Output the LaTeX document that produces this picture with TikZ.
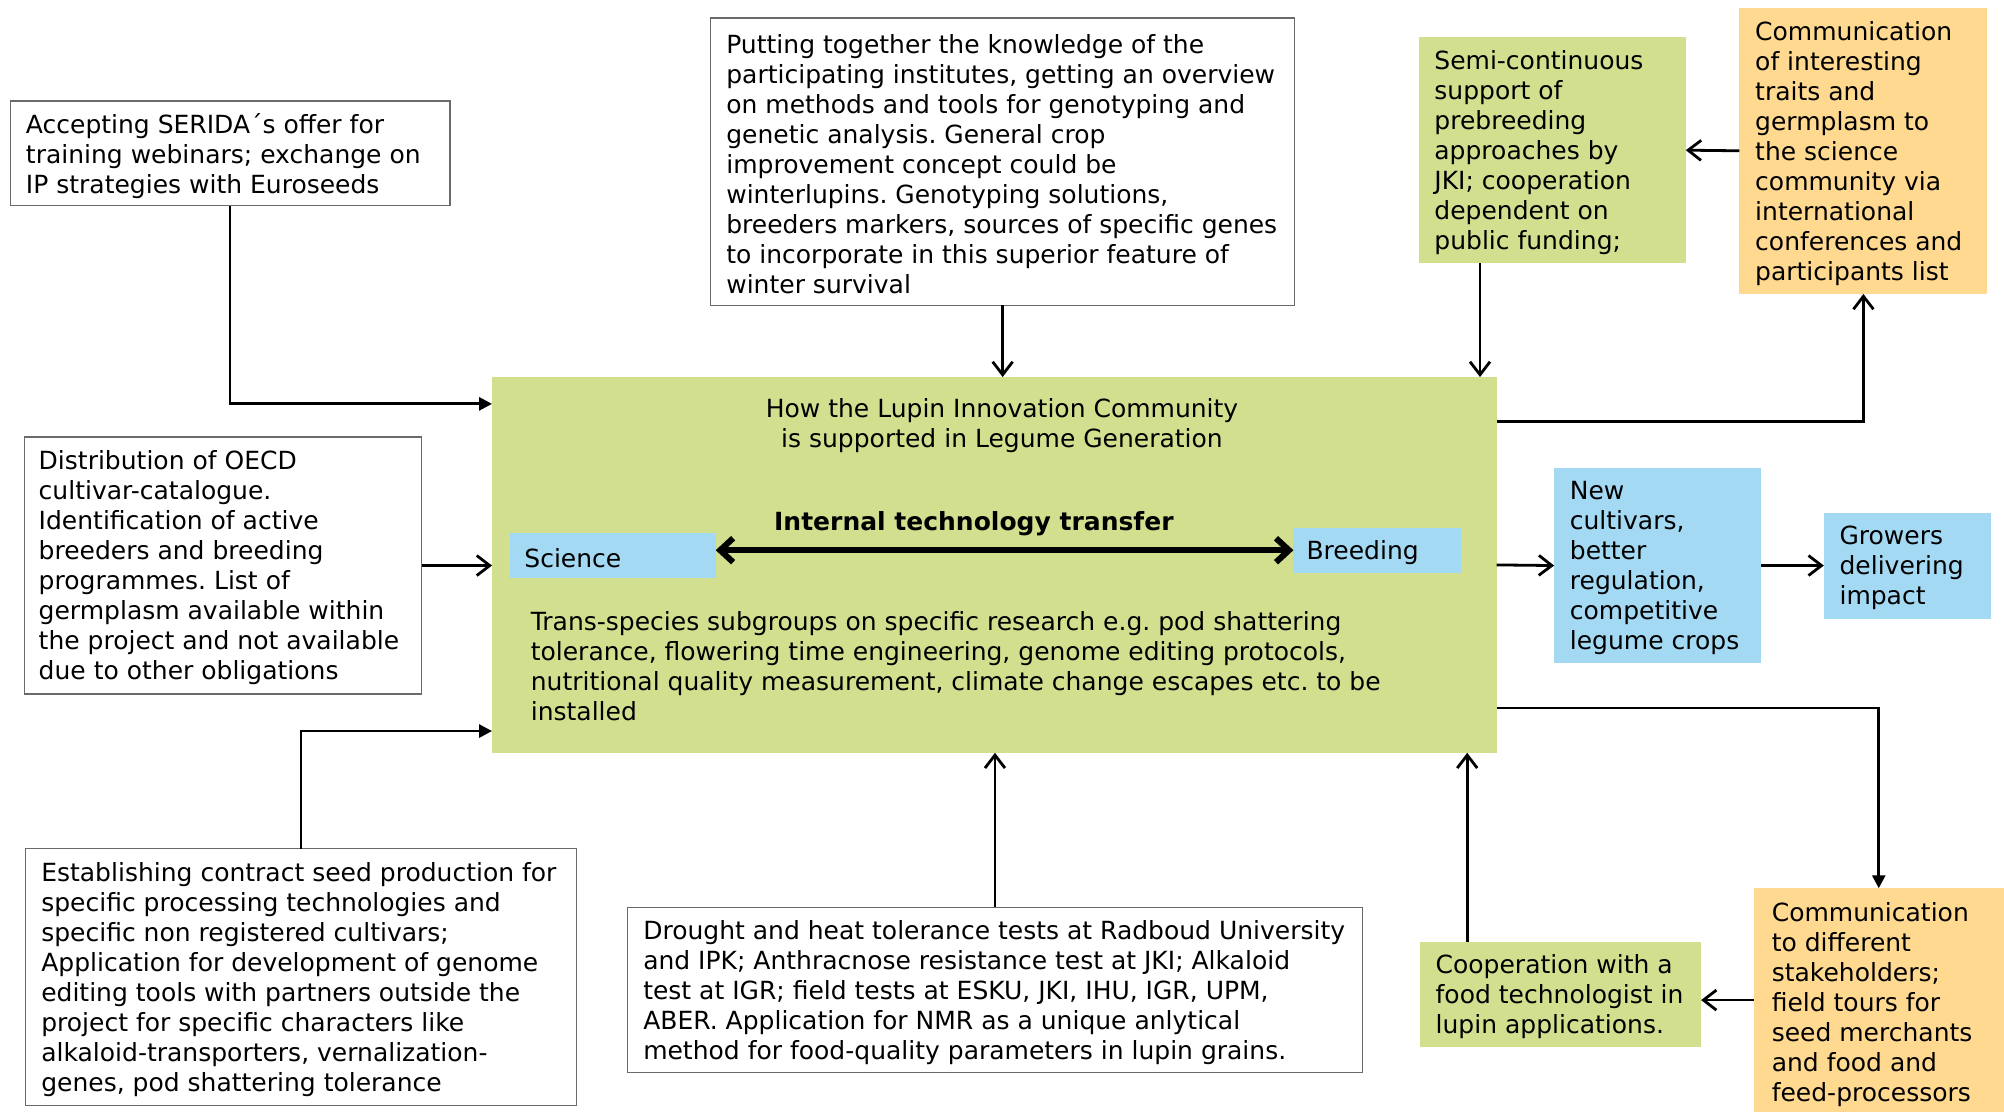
\documentclass[tikz,border=0pt]{standalone}
\usepackage{fontspec}
\setmainfont{DejaVu Sans}
\usetikzlibrary{arrows.meta,calc,fit}
\frenchspacing

\definecolor{lgreen}{HTML}{D1DF8F}
\definecolor{lblue}{HTML}{A4D9F4}
\definecolor{lorange}{HTML}{FFD98F}
\definecolor{framegray}{HTML}{6A6A6A}

\tikzset{
  shape box/.style={inner sep=0pt, outer sep=0pt, rectangle},
  whitebox/.style={shape box, draw=framegray, line width=0.7pt, fill=white},
  greenbox/.style={shape box, fill=lgreen},
  bluebox/.style={shape box, fill=lblue},
  orangebox/.style={shape box, fill=lorange},
  txt/.style={inner sep=0pt, align=left, anchor=west, yshift=-1.2pt,
              font=\fontsize{12.5}{15}\selectfont},
  conn/.style={line width=1.4pt, -{Straight Barb[length=6.5pt,width=10pt]}},
  fconn/.style={line width=1.4pt, -{Triangle[length=6.5pt,width=6.5pt]}},
  twoway/.style={line width=3pt,
     {Straight Barb[length=6.5pt,width=12pt]}-{Straight Barb[length=6.5pt,width=12pt]}},
}

\begin{document}
\begin{tikzpicture}[x=0.639pt,y=-0.639pt]
\path[use as bounding box, fill=white] (0,0) rectangle (1568,870);

% ---- central box --------------------------------------------------
\node[greenbox, fit={(385,295) (1171,589)}] (main) {};
\node[txt, anchor=center, align=center] (title) at (784,331)
  {How the Lupin Innovation Community\\is supported in Legume Generation};
\node[txt, anchor=center] (itt) at (762,408) {\bfseries Internal technology transfer};
\node[bluebox, fit={(399,417) (560,452)}] (science) {};
\node[txt] (science-t) at ($(science.west)+(11,0)$) {Science};
\node[bluebox, fit={(1012,413) (1143,448)}] (breeding) {};
\node[txt] (breeding-t) at ($(breeding.west)+(10,0)$) {Breeding};
\node[txt] (body) at (415,519)
  {Trans-species subgroups on specific research e.g. pod shattering\\
   tolerance, flowering time engineering, genome editing protocols,\\
   nutritional quality measurement, climate change escapes etc. to be\\
   installed};
\draw[twoway] (science.east |- breeding.west) -- (breeding.west);

% ---- surrounding boxes -------------------------------------------
\node[whitebox, fit={(8,79) (352,161)}] (serida) {};
\node[txt] (serida-t) at ($(serida.west)+(12,0)$)
  {Accepting SERIDA´s offer for\\training webinars; exchange on\\IP strategies with Euroseeds};

\node[whitebox, fit={(556,14) (1013,239)}] (putting) {};
\node[txt] (putting-t) at ($(putting.west)+(12,0)$)
  {Putting together the knowledge of the\\
   participating institutes, getting an overview\\
   on methods and tools for genotyping and\\
   genetic analysis. General crop\\
   improvement concept could be\\
   winterlupins. Genotyping solutions,\\
   breeders markers, sources of specific genes\\
   to incorporate in this superior feature of\\
   winter survival};

\node[greenbox, fit={(1110,29) (1319,206)}] (semi) {};
\node[txt] (semi-t) at ($(semi.west)+(12,0)$)
  {Semi-continuous\\support of\\prebreeding\\approaches by\\JKI; cooperation\\dependent on\\public funding;};

\node[orangebox, fit={(1361,6) (1555,230)}] (commtop) {};
\node[txt] (commtop-t) at ($(commtop.west)+(12,0)$)
  {Communication\\of interesting\\traits and\\germplasm to\\the science\\community via\\international\\conferences and\\participants list};

\node[whitebox, fit={(19,342) (330,543)}] (distrib) {};
\node[txt] (distrib-t) at ($(distrib.west)+(11,0)$)
  {Distribution of OECD\\cultivar-catalogue.\\Identification of active\\breeders and breeding\\programmes. List of\\germplasm available within\\the project and not available\\due to other obligations};

\node[whitebox, fit={(20,664) (451,865)}] (establish) {};
\node[txt] (establish-t) at ($(establish.west)+(12,0)$)
  {Establishing contract seed production for\\
   specific processing technologies and\\
   specific non registered cultivars;\\
   Application for development of genome\\
   editing tools with partners outside the\\
   project for specific characters like\\
   alkaloid-transporters, vernalization-\\
   genes, pod shattering tolerance};

\node[whitebox, fit={(491,710) (1066,839)}] (drought) {};
\node[txt] (drought-t) at ($(drought.west)+(12,0)$)
  {Drought and heat tolerance tests at Radboud University\\
   and IPK; Anthracnose resistance test at JKI; Alkaloid\\
   test at IGR; field tests at ESKU, JKI, IHU, IGR, UPM,\\
   ABER. Application for NMR as a unique anlytical\\
   method for food-quality parameters in lupin grains.};

\node[greenbox, fit={(1111,737) (1331,819)}] (coop) {};
\node[txt] (coop-t) at ($(coop.west)+(12,0)$)
  {Cooperation with a\\food technologist in\\lupin applications.};

\node[orangebox, fit={(1372,695) (1568,870)}] (commbot) {};
\node[txt] (commbot-t) at (1386,784)
  {Communication\\to different\\stakeholders;\\field tours for\\seed merchants\\and food and\\feed-processors};

\node[bluebox, fit={(1216,366) (1378,519)}] (newcult) {};
\node[txt] (newcult-t) at ($(newcult.west)+(12,0)$)
  {New\\cultivars,\\better\\regulation,\\competitive\\legume crops};

\node[bluebox, fit={(1427,401) (1558,484)}] (growers) {};
\node[txt] (growers-t) at ($(growers.west)+(12,0)$)
  {Growers\\delivering\\impact};

% ---- connectors ---------------------------------------------------
\draw[fconn] (serida.south) |- ($(main.north west)+(0,21)$);
\draw[conn] (putting.south) -- (putting.south |- main.north);
\coordinate (semi-out) at ($(semi.south west)+(48,0)$);
\draw[conn] (semi-out) -- (semi-out |- main.north);
\draw[conn] ($(main.north east)+(0,35)$) -| (commtop.south);
\draw[conn] (commtop.west) -- (semi.east);
\draw[conn] (distrib.east) -- (distrib.east -| main.west);
\draw[fconn] (establish.north) |- ($(main.south west)+(0,-17)$);
\draw[conn] (drought.north) -- (drought.north |- main.south);
\coordinate (coop-out) at ($(coop.north west)+(37,0)$);
\draw[conn] (coop-out) -- (coop-out |- main.south);
\draw[fconn] ($(main.south east)+(0,-35)$) -| (commbot.north);
\draw[conn] (commbot.west) -- (commbot.west -| coop.east);
\draw[conn] (main.east) -- (newcult.west);
\draw[conn] (newcult.east) -- (growers.west);
\end{tikzpicture}
\end{document}
